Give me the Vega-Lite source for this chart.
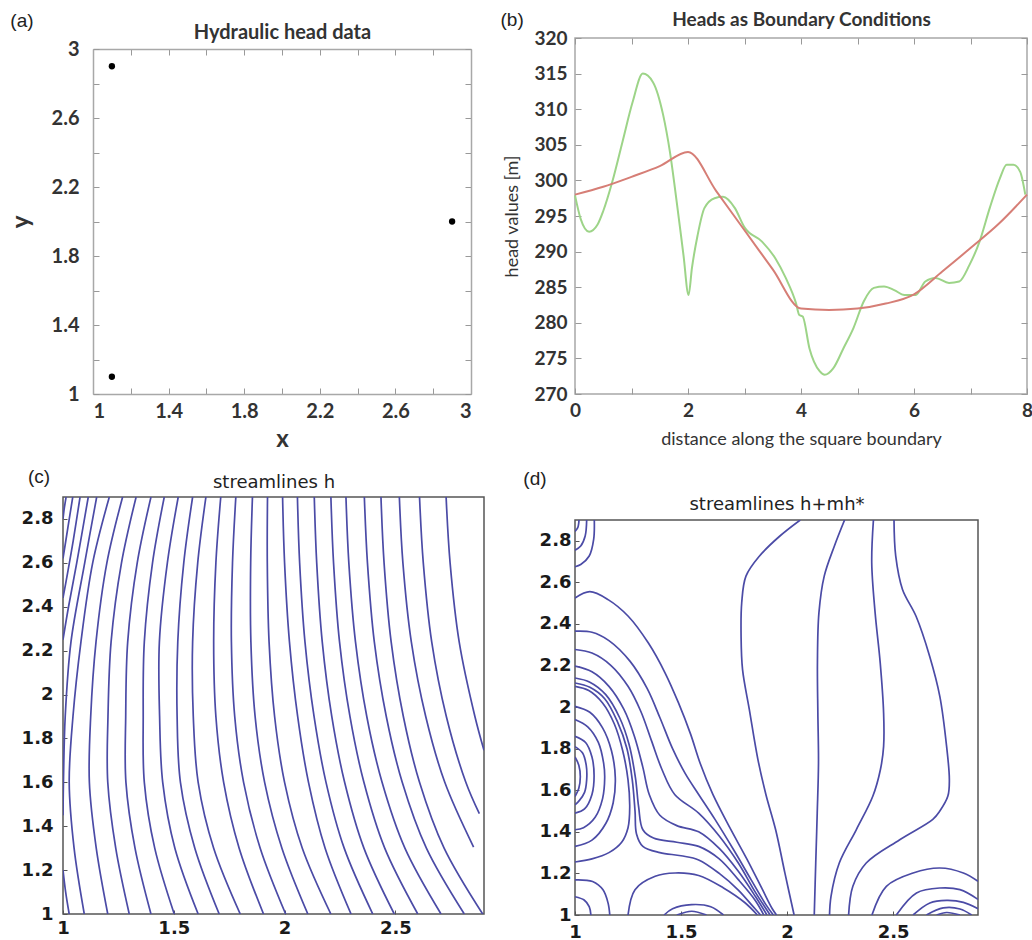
{
  "$schema": "https://vega.github.io/schema/vega-lite/v6.json",
  "background": "white",
  "padding": {"left": 9, "top": 9, "right": 0, "bottom": 0},
  "columns": 2,
  "align": "none",
  "bounds": "full",
  "spacing": 14,
  "config": {"axis": {"grid": false}},
  "datasets": {
    "pts": [
      {"x": 1.1, "y": 2.9},
      {"x": 2.9, "y": 2.0},
      {"x": 1.1, "y": 1.1}
    ],
    "heads": [
      {"s": "h+mh*", "d": 0, "h": 297.9}, {"s": "h+mh*", "d": 0.1, "h": 294.6}, {"s": "h+mh*", "d": 0.25, "h": 292.8}, {"s": "h+mh*", "d": 0.4, "h": 293.8},
      {"s": "h+mh*", "d": 0.5, "h": 295.7}, {"s": "h+mh*", "d": 0.66, "h": 299.8}, {"s": "h+mh*", "d": 0.84, "h": 305.4}, {"s": "h+mh*", "d": 1.02, "h": 311.0},
      {"s": "h+mh*", "d": 1.2, "h": 315.0}, {"s": "h+mh*", "d": 1.38, "h": 313.8}, {"s": "h+mh*", "d": 1.56, "h": 309.2}, {"s": "h+mh*", "d": 1.68, "h": 304.0},
      {"s": "h+mh*", "d": 1.8, "h": 297.0}, {"s": "h+mh*", "d": 1.92, "h": 289.5}, {"s": "h+mh*", "d": 2.01, "h": 283.9}, {"s": "h+mh*", "d": 2.07, "h": 287.7},
      {"s": "h+mh*", "d": 2.17, "h": 292.3}, {"s": "h+mh*", "d": 2.29, "h": 296.1}, {"s": "h+mh*", "d": 2.47, "h": 297.5}, {"s": "h+mh*", "d": 2.62, "h": 297.7},
      {"s": "h+mh*", "d": 2.83, "h": 296.1}, {"s": "h+mh*", "d": 3.0, "h": 293.4}, {"s": "h+mh*", "d": 3.31, "h": 291.4}, {"s": "h+mh*", "d": 3.55, "h": 289.0},
      {"s": "h+mh*", "d": 3.73, "h": 286.3}, {"s": "h+mh*", "d": 3.91, "h": 282.8}, {"s": "h+mh*", "d": 3.97, "h": 281.1}, {"s": "h+mh*", "d": 4.03, "h": 280.9},
      {"s": "h+mh*", "d": 4.15, "h": 276.4}, {"s": "h+mh*", "d": 4.33, "h": 273.2}, {"s": "h+mh*", "d": 4.42, "h": 272.7}, {"s": "h+mh*", "d": 4.57, "h": 273.6},
      {"s": "h+mh*", "d": 4.75, "h": 276.4}, {"s": "h+mh*", "d": 4.93, "h": 279.3}, {"s": "h+mh*", "d": 5.11, "h": 283.0}, {"s": "h+mh*", "d": 5.29, "h": 284.9},
      {"s": "h+mh*", "d": 5.47, "h": 285.1}, {"s": "h+mh*", "d": 5.65, "h": 284.6}, {"s": "h+mh*", "d": 5.83, "h": 283.9}, {"s": "h+mh*", "d": 6.03, "h": 283.9},
      {"s": "h+mh*", "d": 6.2, "h": 285.8}, {"s": "h+mh*", "d": 6.38, "h": 286.3}, {"s": "h+mh*", "d": 6.62, "h": 285.6}, {"s": "h+mh*", "d": 6.8, "h": 285.8},
      {"s": "h+mh*", "d": 6.98, "h": 288.1}, {"s": "h+mh*", "d": 7.16, "h": 291.4}, {"s": "h+mh*", "d": 7.34, "h": 296.1}, {"s": "h+mh*", "d": 7.52, "h": 300.3},
      {"s": "h+mh*", "d": 7.64, "h": 302.2}, {"s": "h+mh*", "d": 7.76, "h": 302.2}, {"s": "h+mh*", "d": 7.88, "h": 301.2}, {"s": "h+mh*", "d": 7.97, "h": 298.0},
      {"s": "h", "d": 0, "h": 298.0}, {"s": "h", "d": 0.5, "h": 299.1}, {"s": "h", "d": 1, "h": 300.5}, {"s": "h", "d": 1.5, "h": 302.0},
      {"s": "h", "d": 2, "h": 304.0}, {"s": "h", "d": 2.5, "h": 298.5}, {"s": "h", "d": 3, "h": 293.0}, {"s": "h", "d": 3.5, "h": 287.5},
      {"s": "h", "d": 4, "h": 282.0}, {"s": "h", "d": 4.5, "h": 281.8}, {"s": "h", "d": 5, "h": 282.0}, {"s": "h", "d": 5.5, "h": 282.7},
      {"s": "h", "d": 6, "h": 284.0}, {"s": "h", "d": 6.5, "h": 287.2}, {"s": "h", "d": 7, "h": 290.5}, {"s": "h", "d": 7.5, "h": 293.9},
      {"s": "h", "d": 8, "h": 298.0}
    ],
    "sc": [
      {"l": "L1", "o": 0, "x": 1.014, "y": 2.9}, {"l": "L1", "o": 1, "x": 1.006, "y": 2.85}, {"l": "L1", "o": 2, "x": 1.0, "y": 2.8},
      {"l": "L2", "o": 0, "x": 1.044, "y": 2.9}, {"l": "L2", "o": 1, "x": 1.022, "y": 2.76}, {"l": "L2", "o": 2, "x": 1.0, "y": 2.62},
      {"l": "L3", "o": 0, "x": 1.077, "y": 2.9}, {"l": "L3", "o": 1, "x": 1.046, "y": 2.7}, {"l": "L3", "o": 2, "x": 1.02, "y": 2.55}, {"l": "L3", "o": 3, "x": 1.0, "y": 2.44},
      {"l": "L4", "o": 0, "x": 1.114, "y": 2.9}, {"l": "L4", "o": 1, "x": 1.062, "y": 2.6}, {"l": "L4", "o": 2, "x": 1.025, "y": 2.4}, {"l": "L4", "o": 3, "x": 1.0, "y": 2.25},
      {"l": "L5", "o": 0, "x": 1.152, "y": 2.9}, {"l": "L5", "o": 1, "x": 1.098, "y": 2.6}, {"l": "L5", "o": 2, "x": 1.036, "y": 2.24}, {"l": "L5", "o": 3, "x": 1.01, "y": 1.9}, {"l": "L5", "o": 4, "x": 1.002, "y": 1.6}, {"l": "L5", "o": 5, "x": 1.0, "y": 1.45},
      {"l": "L5b", "o": 0, "x": 1.0, "y": 1.2}, {"l": "L5b", "o": 1, "x": 1.012, "y": 1.1}, {"l": "L5b", "o": 2, "x": 1.028, "y": 1.0},
      {"l": "L6", "o": 0, "x": 1.209, "y": 2.9}, {"l": "L6", "o": 1, "x": 1.134, "y": 2.6}, {"l": "L6", "o": 2, "x": 1.081, "y": 2.24}, {"l": "L6", "o": 3, "x": 1.045, "y": 1.9}, {"l": "L6", "o": 4, "x": 1.028, "y": 1.6}, {"l": "L6", "o": 5, "x": 1.05, "y": 1.3}, {"l": "L6", "o": 6, "x": 1.096, "y": 1.0},
      {"l": "L7", "o": 0, "x": 1.269, "y": 2.9}, {"l": "L7", "o": 1, "x": 1.198, "y": 2.6}, {"l": "L7", "o": 2, "x": 1.149, "y": 2.24}, {"l": "L7", "o": 3, "x": 1.125, "y": 1.9}, {"l": "L7", "o": 4, "x": 1.119, "y": 1.6}, {"l": "L7", "o": 5, "x": 1.15, "y": 1.3}, {"l": "L7", "o": 6, "x": 1.202, "y": 1.0},
      {"l": "L8", "o": 0, "x": 1.33, "y": 2.9}, {"l": "L8", "o": 1, "x": 1.264, "y": 2.6}, {"l": "L8", "o": 2, "x": 1.217, "y": 2.24}, {"l": "L8", "o": 3, "x": 1.203, "y": 1.9}, {"l": "L8", "o": 4, "x": 1.202, "y": 1.6}, {"l": "L8", "o": 5, "x": 1.238, "y": 1.3}, {"l": "L8", "o": 6, "x": 1.299, "y": 1.0},
      {"l": "L9", "o": 0, "x": 1.397, "y": 2.9}, {"l": "L9", "o": 1, "x": 1.335, "y": 2.6}, {"l": "L9", "o": 2, "x": 1.292, "y": 2.24}, {"l": "L9", "o": 3, "x": 1.283, "y": 1.9}, {"l": "L9", "o": 4, "x": 1.284, "y": 1.6}, {"l": "L9", "o": 5, "x": 1.325, "y": 1.3}, {"l": "L9", "o": 6, "x": 1.397, "y": 1.0},
      {"l": "L10", "o": 0, "x": 1.457, "y": 2.9}, {"l": "L10", "o": 1, "x": 1.404, "y": 2.6}, {"l": "L10", "o": 2, "x": 1.367, "y": 2.24}, {"l": "L10", "o": 3, "x": 1.362, "y": 1.9}, {"l": "L10", "o": 4, "x": 1.367, "y": 1.6}, {"l": "L10", "o": 5, "x": 1.414, "y": 1.3}, {"l": "L10", "o": 6, "x": 1.502, "y": 1.0},
      {"l": "L11", "o": 0, "x": 1.52, "y": 2.9}, {"l": "L11", "o": 1, "x": 1.471, "y": 2.6}, {"l": "L11", "o": 2, "x": 1.435, "y": 2.24}, {"l": "L11", "o": 3, "x": 1.436, "y": 1.9}, {"l": "L11", "o": 4, "x": 1.45, "y": 1.6}, {"l": "L11", "o": 5, "x": 1.505, "y": 1.3}, {"l": "L11", "o": 6, "x": 1.61, "y": 1.0},
      {"l": "L12", "o": 0, "x": 1.585, "y": 2.9}, {"l": "L12", "o": 1, "x": 1.545, "y": 2.6}, {"l": "L12", "o": 2, "x": 1.518, "y": 2.24}, {"l": "L12", "o": 3, "x": 1.515, "y": 1.9}, {"l": "L12", "o": 4, "x": 1.53, "y": 1.6}, {"l": "L12", "o": 5, "x": 1.595, "y": 1.3}, {"l": "L12", "o": 6, "x": 1.705, "y": 1.0},
      {"l": "L13", "o": 0, "x": 1.645, "y": 2.9}, {"l": "L13", "o": 1, "x": 1.608, "y": 2.6}, {"l": "L13", "o": 2, "x": 1.585, "y": 2.24}, {"l": "L13", "o": 3, "x": 1.588, "y": 1.9}, {"l": "L13", "o": 4, "x": 1.61, "y": 1.6}, {"l": "L13", "o": 5, "x": 1.68, "y": 1.3}, {"l": "L13", "o": 6, "x": 1.8, "y": 1.0},
      {"l": "L14", "o": 0, "x": 1.712, "y": 2.9}, {"l": "L14", "o": 1, "x": 1.69, "y": 2.6}, {"l": "L14", "o": 2, "x": 1.68, "y": 2.24}, {"l": "L14", "o": 3, "x": 1.69, "y": 1.9}, {"l": "L14", "o": 4, "x": 1.725, "y": 1.6}, {"l": "L14", "o": 5, "x": 1.795, "y": 1.3}, {"l": "L14", "o": 6, "x": 1.905, "y": 1.0},
      {"l": "L15", "o": 0, "x": 1.78, "y": 2.9}, {"l": "L15", "o": 1, "x": 1.765, "y": 2.6}, {"l": "L15", "o": 2, "x": 1.76, "y": 2.24}, {"l": "L15", "o": 3, "x": 1.775, "y": 1.9}, {"l": "L15", "o": 4, "x": 1.815, "y": 1.6}, {"l": "L15", "o": 5, "x": 1.89, "y": 1.3}, {"l": "L15", "o": 6, "x": 2.005, "y": 1.0},
      {"l": "L16", "o": 0, "x": 1.855, "y": 2.9}, {"l": "L16", "o": 1, "x": 1.847, "y": 2.6}, {"l": "L16", "o": 2, "x": 1.848, "y": 2.24}, {"l": "L16", "o": 3, "x": 1.867, "y": 1.9}, {"l": "L16", "o": 4, "x": 1.91, "y": 1.6}, {"l": "L16", "o": 5, "x": 1.988, "y": 1.3}, {"l": "L16", "o": 6, "x": 2.105, "y": 1.0},
      {"l": "L17", "o": 0, "x": 1.923, "y": 2.9}, {"l": "L17", "o": 1, "x": 1.922, "y": 2.6}, {"l": "L17", "o": 2, "x": 1.93, "y": 2.24}, {"l": "L17", "o": 3, "x": 1.955, "y": 1.9}, {"l": "L17", "o": 4, "x": 2.0, "y": 1.6}, {"l": "L17", "o": 5, "x": 2.08, "y": 1.3}, {"l": "L17", "o": 6, "x": 2.209, "y": 1.0},
      {"l": "L18", "o": 0, "x": 1.991, "y": 2.9}, {"l": "L18", "o": 1, "x": 2.0, "y": 2.6}, {"l": "L18", "o": 2, "x": 2.022, "y": 2.24}, {"l": "L18", "o": 3, "x": 2.059, "y": 1.9}, {"l": "L18", "o": 4, "x": 2.108, "y": 1.6}, {"l": "L18", "o": 5, "x": 2.183, "y": 1.3}, {"l": "L18", "o": 6, "x": 2.3, "y": 1.0},
      {"l": "L19", "o": 0, "x": 2.058, "y": 2.9}, {"l": "L19", "o": 1, "x": 2.068, "y": 2.6}, {"l": "L19", "o": 2, "x": 2.092, "y": 2.24}, {"l": "L19", "o": 3, "x": 2.133, "y": 1.9}, {"l": "L19", "o": 4, "x": 2.187, "y": 1.6}, {"l": "L19", "o": 5, "x": 2.269, "y": 1.3}, {"l": "L19", "o": 6, "x": 2.398, "y": 1.0},
      {"l": "L20", "o": 0, "x": 2.134, "y": 2.9}, {"l": "L20", "o": 1, "x": 2.145, "y": 2.6}, {"l": "L20", "o": 2, "x": 2.17, "y": 2.24}, {"l": "L20", "o": 3, "x": 2.213, "y": 1.9}, {"l": "L20", "o": 4, "x": 2.271, "y": 1.6}, {"l": "L20", "o": 5, "x": 2.358, "y": 1.3}, {"l": "L20", "o": 6, "x": 2.495, "y": 1.0},
      {"l": "L21", "o": 0, "x": 2.209, "y": 2.9}, {"l": "L21", "o": 1, "x": 2.221, "y": 2.6}, {"l": "L21", "o": 2, "x": 2.248, "y": 2.24}, {"l": "L21", "o": 3, "x": 2.295, "y": 1.9}, {"l": "L21", "o": 4, "x": 2.358, "y": 1.6}, {"l": "L21", "o": 5, "x": 2.452, "y": 1.3}, {"l": "L21", "o": 6, "x": 2.601, "y": 1.0},
      {"l": "L22", "o": 0, "x": 2.277, "y": 2.9}, {"l": "L22", "o": 1, "x": 2.29, "y": 2.6}, {"l": "L22", "o": 2, "x": 2.32, "y": 2.24}, {"l": "L22", "o": 3, "x": 2.371, "y": 1.9}, {"l": "L22", "o": 4, "x": 2.44, "y": 1.6}, {"l": "L22", "o": 5, "x": 2.543, "y": 1.3}, {"l": "L22", "o": 6, "x": 2.706, "y": 1.0},
      {"l": "L23", "o": 0, "x": 2.36, "y": 2.9}, {"l": "L23", "o": 1, "x": 2.374, "y": 2.6}, {"l": "L23", "o": 2, "x": 2.405, "y": 2.24}, {"l": "L23", "o": 3, "x": 2.459, "y": 1.9}, {"l": "L23", "o": 4, "x": 2.531, "y": 1.6}, {"l": "L23", "o": 5, "x": 2.64, "y": 1.3}, {"l": "L23", "o": 6, "x": 2.811, "y": 1.0},
      {"l": "L24", "o": 0, "x": 2.435, "y": 2.9}, {"l": "L24", "o": 1, "x": 2.449, "y": 2.6}, {"l": "L24", "o": 2, "x": 2.481, "y": 2.24}, {"l": "L24", "o": 3, "x": 2.536, "y": 1.9}, {"l": "L24", "o": 4, "x": 2.609, "y": 1.6}, {"l": "L24", "o": 5, "x": 2.72, "y": 1.3}, {"l": "L24", "o": 6, "x": 2.894, "y": 1.0},
      {"l": "L25", "o": 0, "x": 2.518, "y": 2.9}, {"l": "L25", "o": 1, "x": 2.534, "y": 2.6}, {"l": "L25", "o": 2, "x": 2.572, "y": 2.24}, {"l": "L25", "o": 3, "x": 2.637, "y": 1.9}, {"l": "L25", "o": 4, "x": 2.723, "y": 1.6}, {"l": "L25", "o": 5, "x": 2.853, "y": 1.305},
      {"l": "L26", "o": 0, "x": 2.609, "y": 2.9}, {"l": "L26", "o": 1, "x": 2.626, "y": 2.6}, {"l": "L26", "o": 2, "x": 2.664, "y": 2.24}, {"l": "L26", "o": 3, "x": 2.73, "y": 1.9}, {"l": "L26", "o": 4, "x": 2.818, "y": 1.6}, {"l": "L26", "o": 5, "x": 2.879, "y": 1.457},
      {"l": "L27", "o": 0, "x": 2.729, "y": 2.9}, {"l": "L27", "o": 1, "x": 2.747, "y": 2.6}, {"l": "L27", "o": 2, "x": 2.788, "y": 2.24}, {"l": "L27", "o": 3, "x": 2.859, "y": 1.9}, {"l": "L27", "o": 4, "x": 2.9, "y": 1.746}
    ],
    "sd": [
      {"l": "A1", "o": 0, "x": 1.091, "y": 2.9}, {"l": "A1", "o": 1, "x": 1.088, "y": 2.807}, {"l": "A1", "o": 2, "x": 1.067, "y": 2.727}, {"l": "A1", "o": 3, "x": 1.027, "y": 2.686}, {"l": "A1", "o": 4, "x": 1.0, "y": 2.675},
      {"l": "A2", "o": 0, "x": 1.055, "y": 2.9}, {"l": "A2", "o": 1, "x": 1.048, "y": 2.823}, {"l": "A2", "o": 2, "x": 1.027, "y": 2.775}, {"l": "A2", "o": 3, "x": 1.0, "y": 2.755},
      {"l": "A3", "o": 0, "x": 1.019, "y": 2.9}, {"l": "A3", "o": 1, "x": 1.013, "y": 2.863}, {"l": "A3", "o": 2, "x": 1.0, "y": 2.845},
      {"l": "F1", "o": 0, "x": 1.0, "y": 2.525}, {"l": "F1", "o": 1, "x": 1.07, "y": 2.555}, {"l": "F1", "o": 2, "x": 1.156, "y": 2.517}, {"l": "F1", "o": 3, "x": 1.251, "y": 2.437}, {"l": "F1", "o": 4, "x": 1.346, "y": 2.308}, {"l": "F1", "o": 5, "x": 1.425, "y": 2.164}, {"l": "F1", "o": 6, "x": 1.488, "y": 2.02}, {"l": "F1", "o": 7, "x": 1.545, "y": 1.87}, {"l": "F1", "o": 8, "x": 1.59, "y": 1.73}, {"l": "F1", "o": 9, "x": 1.65, "y": 1.58}, {"l": "F1", "o": 10, "x": 1.73, "y": 1.42}, {"l": "F1", "o": 11, "x": 1.81, "y": 1.27}, {"l": "F1", "o": 12, "x": 1.88, "y": 1.13}, {"l": "F1", "o": 13, "x": 1.93, "y": 1.03}, {"l": "F1", "o": 14, "x": 1.95, "y": 1.0},
      {"l": "F2", "o": 0, "x": 1.0, "y": 2.365}, {"l": "F2", "o": 1, "x": 1.08, "y": 2.36}, {"l": "F2", "o": 2, "x": 1.16, "y": 2.32}, {"l": "F2", "o": 3, "x": 1.26, "y": 2.22}, {"l": "F2", "o": 4, "x": 1.34, "y": 2.09}, {"l": "F2", "o": 5, "x": 1.4, "y": 1.95}, {"l": "F2", "o": 6, "x": 1.46, "y": 1.8}, {"l": "F2", "o": 7, "x": 1.52, "y": 1.68}, {"l": "F2", "o": 8, "x": 1.583, "y": 1.58}, {"l": "F2", "o": 9, "x": 1.66, "y": 1.46}, {"l": "F2", "o": 10, "x": 1.75, "y": 1.31}, {"l": "F2", "o": 11, "x": 1.83, "y": 1.17}, {"l": "F2", "o": 12, "x": 1.9, "y": 1.05}, {"l": "F2", "o": 13, "x": 1.935, "y": 1.0},
      {"l": "F3", "o": 0, "x": 1.0, "y": 2.277}, {"l": "F3", "o": 1, "x": 1.08, "y": 2.26}, {"l": "F3", "o": 2, "x": 1.17, "y": 2.2}, {"l": "F3", "o": 3, "x": 1.25, "y": 2.1}, {"l": "F3", "o": 4, "x": 1.31, "y": 1.98}, {"l": "F3", "o": 5, "x": 1.36, "y": 1.84}, {"l": "F3", "o": 6, "x": 1.41, "y": 1.7}, {"l": "F3", "o": 7, "x": 1.47, "y": 1.58}, {"l": "F3", "o": 8, "x": 1.583, "y": 1.49}, {"l": "F3", "o": 9, "x": 1.68, "y": 1.38}, {"l": "F3", "o": 10, "x": 1.77, "y": 1.25}, {"l": "F3", "o": 11, "x": 1.85, "y": 1.11}, {"l": "F3", "o": 12, "x": 1.92, "y": 1.0},
      {"l": "F4", "o": 0, "x": 1.0, "y": 2.197}, {"l": "F4", "o": 1, "x": 1.08, "y": 2.17}, {"l": "F4", "o": 2, "x": 1.16, "y": 2.1}, {"l": "F4", "o": 3, "x": 1.23, "y": 1.99}, {"l": "F4", "o": 4, "x": 1.28, "y": 1.86}, {"l": "F4", "o": 5, "x": 1.32, "y": 1.71}, {"l": "F4", "o": 6, "x": 1.35, "y": 1.58}, {"l": "F4", "o": 7, "x": 1.4, "y": 1.48}, {"l": "F4", "o": 8, "x": 1.48, "y": 1.43}, {"l": "F4", "o": 9, "x": 1.583, "y": 1.4}, {"l": "F4", "o": 10, "x": 1.68, "y": 1.32}, {"l": "F4", "o": 11, "x": 1.77, "y": 1.21}, {"l": "F4", "o": 12, "x": 1.85, "y": 1.09}, {"l": "F4", "o": 13, "x": 1.905, "y": 1.0},
      {"l": "F5", "o": 0, "x": 1.0, "y": 2.14}, {"l": "F5", "o": 1, "x": 1.07, "y": 2.12}, {"l": "F5", "o": 2, "x": 1.145, "y": 2.06}, {"l": "F5", "o": 3, "x": 1.21, "y": 1.95}, {"l": "F5", "o": 4, "x": 1.255, "y": 1.82}, {"l": "F5", "o": 5, "x": 1.285, "y": 1.66}, {"l": "F5", "o": 6, "x": 1.3, "y": 1.52}, {"l": "F5", "o": 7, "x": 1.32, "y": 1.41}, {"l": "F5", "o": 8, "x": 1.37, "y": 1.37}, {"l": "F5", "o": 9, "x": 1.48, "y": 1.35}, {"l": "F5", "o": 10, "x": 1.583, "y": 1.33}, {"l": "F5", "o": 11, "x": 1.68, "y": 1.27}, {"l": "F5", "o": 12, "x": 1.77, "y": 1.17}, {"l": "F5", "o": 13, "x": 1.85, "y": 1.07}, {"l": "F5", "o": 14, "x": 1.89, "y": 1.0},
      {"l": "F6", "o": 0, "x": 1.0, "y": 2.116}, {"l": "F6", "o": 1, "x": 1.07, "y": 2.095}, {"l": "F6", "o": 2, "x": 1.14, "y": 2.04}, {"l": "F6", "o": 3, "x": 1.2, "y": 1.93}, {"l": "F6", "o": 4, "x": 1.245, "y": 1.8}, {"l": "F6", "o": 5, "x": 1.27, "y": 1.65}, {"l": "F6", "o": 6, "x": 1.283, "y": 1.5}, {"l": "F6", "o": 7, "x": 1.29, "y": 1.39}, {"l": "F6", "o": 8, "x": 1.32, "y": 1.33}, {"l": "F6", "o": 9, "x": 1.4, "y": 1.3}, {"l": "F6", "o": 10, "x": 1.5, "y": 1.285}, {"l": "F6", "o": 11, "x": 1.583, "y": 1.265}, {"l": "F6", "o": 12, "x": 1.68, "y": 1.2}, {"l": "F6", "o": 13, "x": 1.77, "y": 1.12}, {"l": "F6", "o": 14, "x": 1.84, "y": 1.04}, {"l": "F6", "o": 15, "x": 1.875, "y": 1.0},
      {"l": "F7", "o": 0, "x": 1.0, "y": 2.1}, {"l": "F7", "o": 1, "x": 1.065, "y": 2.08}, {"l": "F7", "o": 2, "x": 1.13, "y": 2.02}, {"l": "F7", "o": 3, "x": 1.185, "y": 1.92}, {"l": "F7", "o": 4, "x": 1.225, "y": 1.79}, {"l": "F7", "o": 5, "x": 1.25, "y": 1.65}, {"l": "F7", "o": 6, "x": 1.258, "y": 1.52}, {"l": "F7", "o": 7, "x": 1.25, "y": 1.42}, {"l": "F7", "o": 8, "x": 1.22, "y": 1.35}, {"l": "F7", "o": 9, "x": 1.16, "y": 1.3}, {"l": "F7", "o": 10, "x": 1.08, "y": 1.27}, {"l": "F7", "o": 11, "x": 1.0, "y": 1.255},
      {"l": "G1", "o": 0, "x": 1.0, "y": 2.004}, {"l": "G1", "o": 1, "x": 1.07, "y": 1.975}, {"l": "G1", "o": 2, "x": 1.13, "y": 1.9}, {"l": "G1", "o": 3, "x": 1.172, "y": 1.79}, {"l": "G1", "o": 4, "x": 1.19, "y": 1.66}, {"l": "G1", "o": 5, "x": 1.18, "y": 1.54}, {"l": "G1", "o": 6, "x": 1.145, "y": 1.44}, {"l": "G1", "o": 7, "x": 1.08, "y": 1.36}, {"l": "G1", "o": 8, "x": 1.0, "y": 1.33},
      {"l": "G2", "o": 0, "x": 1.0, "y": 1.94}, {"l": "G2", "o": 1, "x": 1.06, "y": 1.905}, {"l": "G2", "o": 2, "x": 1.11, "y": 1.83}, {"l": "G2", "o": 3, "x": 1.135, "y": 1.73}, {"l": "G2", "o": 4, "x": 1.14, "y": 1.66}, {"l": "G2", "o": 5, "x": 1.13, "y": 1.56}, {"l": "G2", "o": 6, "x": 1.095, "y": 1.47}, {"l": "G2", "o": 7, "x": 1.04, "y": 1.42}, {"l": "G2", "o": 8, "x": 1.0, "y": 1.41},
      {"l": "G3", "o": 0, "x": 1.0, "y": 1.86}, {"l": "G3", "o": 1, "x": 1.05, "y": 1.83}, {"l": "G3", "o": 2, "x": 1.08, "y": 1.76}, {"l": "G3", "o": 3, "x": 1.09, "y": 1.67}, {"l": "G3", "o": 4, "x": 1.08, "y": 1.58}, {"l": "G3", "o": 5, "x": 1.045, "y": 1.51}, {"l": "G3", "o": 6, "x": 1.0, "y": 1.49},
      {"l": "G4", "o": 0, "x": 1.0, "y": 1.81}, {"l": "G4", "o": 1, "x": 1.035, "y": 1.78}, {"l": "G4", "o": 2, "x": 1.053, "y": 1.72}, {"l": "G4", "o": 3, "x": 1.055, "y": 1.65}, {"l": "G4", "o": 4, "x": 1.045, "y": 1.59}, {"l": "G4", "o": 5, "x": 1.02, "y": 1.55}, {"l": "G4", "o": 6, "x": 1.0, "y": 1.53},
      {"l": "G5", "o": 0, "x": 1.0, "y": 1.76}, {"l": "G5", "o": 1, "x": 1.018, "y": 1.72}, {"l": "G5", "o": 2, "x": 1.025, "y": 1.665}, {"l": "G5", "o": 3, "x": 1.018, "y": 1.61}, {"l": "G5", "o": 4, "x": 1.0, "y": 1.57},
      {"l": "H1", "o": 0, "x": 1.0, "y": 1.169}, {"l": "H1", "o": 1, "x": 1.083, "y": 1.161}, {"l": "H1", "o": 2, "x": 1.132, "y": 1.121}, {"l": "H1", "o": 3, "x": 1.156, "y": 1.057}, {"l": "H1", "o": 4, "x": 1.164, "y": 1.0},
      {"l": "H2", "o": 0, "x": 1.0, "y": 1.088}, {"l": "H2", "o": 1, "x": 1.043, "y": 1.072}, {"l": "H2", "o": 2, "x": 1.067, "y": 1.04}, {"l": "H2", "o": 3, "x": 1.075, "y": 1.0},
      {"l": "I1", "o": 0, "x": 1.25, "y": 1.0}, {"l": "I1", "o": 1, "x": 1.283, "y": 1.122}, {"l": "I1", "o": 2, "x": 1.378, "y": 1.186}, {"l": "I1", "o": 3, "x": 1.472, "y": 1.202}, {"l": "I1", "o": 4, "x": 1.583, "y": 1.19}, {"l": "I1", "o": 5, "x": 1.7, "y": 1.13}, {"l": "I1", "o": 6, "x": 1.8, "y": 1.06}, {"l": "I1", "o": 7, "x": 1.86, "y": 1.0},
      {"l": "J1", "o": 0, "x": 1.42, "y": 1.0}, {"l": "J1", "o": 1, "x": 1.46, "y": 1.03}, {"l": "J1", "o": 2, "x": 1.55, "y": 1.05}, {"l": "J1", "o": 3, "x": 1.64, "y": 1.04}, {"l": "J1", "o": 4, "x": 1.7, "y": 1.0},
      {"l": "J2", "o": 0, "x": 1.48, "y": 1.0}, {"l": "J2", "o": 1, "x": 1.55, "y": 1.018}, {"l": "J2", "o": 2, "x": 1.62, "y": 1.0},
      {"l": "M1", "o": 0, "x": 2.062, "y": 2.9}, {"l": "M1", "o": 1, "x": 1.966, "y": 2.823}, {"l": "M1", "o": 2, "x": 1.87, "y": 2.727}, {"l": "M1", "o": 3, "x": 1.806, "y": 2.63}, {"l": "M1", "o": 4, "x": 1.786, "y": 2.502}, {"l": "M1", "o": 5, "x": 1.783, "y": 2.341}, {"l": "M1", "o": 6, "x": 1.79, "y": 2.18}, {"l": "M1", "o": 7, "x": 1.822, "y": 1.988}, {"l": "M1", "o": 8, "x": 1.862, "y": 1.75}, {"l": "M1", "o": 9, "x": 1.9, "y": 1.58}, {"l": "M1", "o": 10, "x": 1.946, "y": 1.41}, {"l": "M1", "o": 11, "x": 1.99, "y": 1.2}, {"l": "M1", "o": 12, "x": 2.033, "y": 1.0},
      {"l": "M2", "o": 0, "x": 2.271, "y": 2.9}, {"l": "M2", "o": 1, "x": 2.223, "y": 2.775}, {"l": "M2", "o": 2, "x": 2.175, "y": 2.63}, {"l": "M2", "o": 3, "x": 2.15, "y": 2.453}, {"l": "M2", "o": 4, "x": 2.143, "y": 2.213}, {"l": "M2", "o": 5, "x": 2.145, "y": 1.972}, {"l": "M2", "o": 6, "x": 2.148, "y": 1.731}, {"l": "M2", "o": 7, "x": 2.142, "y": 1.49}, {"l": "M2", "o": 8, "x": 2.135, "y": 1.25}, {"l": "M2", "o": 9, "x": 2.128, "y": 1.0},
      {"l": "M3", "o": 0, "x": 2.407, "y": 2.9}, {"l": "M3", "o": 1, "x": 2.399, "y": 2.694}, {"l": "M3", "o": 2, "x": 2.415, "y": 2.453}, {"l": "M3", "o": 3, "x": 2.439, "y": 2.213}, {"l": "M3", "o": 4, "x": 2.455, "y": 1.972}, {"l": "M3", "o": 5, "x": 2.455, "y": 1.811}, {"l": "M3", "o": 6, "x": 2.44, "y": 1.7}, {"l": "M3", "o": 7, "x": 2.404, "y": 1.571}, {"l": "M3", "o": 8, "x": 2.326, "y": 1.41}, {"l": "M3", "o": 9, "x": 2.246, "y": 1.25}, {"l": "M3", "o": 10, "x": 2.207, "y": 1.09}, {"l": "M3", "o": 11, "x": 2.2, "y": 1.0},
      {"l": "M4", "o": 0, "x": 2.504, "y": 2.9}, {"l": "M4", "o": 1, "x": 2.512, "y": 2.727}, {"l": "M4", "o": 2, "x": 2.544, "y": 2.566}, {"l": "M4", "o": 3, "x": 2.608, "y": 2.437}, {"l": "M4", "o": 4, "x": 2.672, "y": 2.245}, {"l": "M4", "o": 5, "x": 2.72, "y": 2.052}, {"l": "M4", "o": 6, "x": 2.752, "y": 1.811}, {"l": "M4", "o": 7, "x": 2.765, "y": 1.65}, {"l": "M4", "o": 8, "x": 2.758, "y": 1.572}, {"l": "M4", "o": 9, "x": 2.72, "y": 1.5}, {"l": "M4", "o": 10, "x": 2.687, "y": 1.46}, {"l": "M4", "o": 11, "x": 2.531, "y": 1.362}, {"l": "M4", "o": 12, "x": 2.373, "y": 1.25}, {"l": "M4", "o": 13, "x": 2.31, "y": 1.138}, {"l": "M4", "o": 14, "x": 2.29, "y": 1.0},
      {"l": "K1", "o": 0, "x": 2.4, "y": 1.0}, {"l": "K1", "o": 1, "x": 2.468, "y": 1.138}, {"l": "K1", "o": 2, "x": 2.594, "y": 1.202}, {"l": "K1", "o": 3, "x": 2.72, "y": 1.226}, {"l": "K1", "o": 4, "x": 2.831, "y": 1.202}, {"l": "K1", "o": 5, "x": 2.9, "y": 1.162},
      {"l": "K2", "o": 0, "x": 2.515, "y": 1.0}, {"l": "K2", "o": 1, "x": 2.61, "y": 1.106}, {"l": "K2", "o": 2, "x": 2.72, "y": 1.13}, {"l": "K2", "o": 3, "x": 2.815, "y": 1.122}, {"l": "K2", "o": 4, "x": 2.9, "y": 1.075},
      {"l": "K3", "o": 0, "x": 2.594, "y": 1.0}, {"l": "K3", "o": 1, "x": 2.673, "y": 1.058}, {"l": "K3", "o": 2, "x": 2.752, "y": 1.07}, {"l": "K3", "o": 3, "x": 2.831, "y": 1.061}, {"l": "K3", "o": 4, "x": 2.9, "y": 1.03},
      {"l": "K4", "o": 0, "x": 2.657, "y": 1.0}, {"l": "K4", "o": 1, "x": 2.736, "y": 1.034}, {"l": "K4", "o": 2, "x": 2.815, "y": 1.029}, {"l": "K4", "o": 3, "x": 2.87, "y": 1.0},
      {"l": "K5", "o": 0, "x": 2.705, "y": 1.0}, {"l": "K5", "o": 1, "x": 2.752, "y": 1.012}, {"l": "K5", "o": 2, "x": 2.815, "y": 1.0}
    ]
  },
  "concat": [
    {
      "columns": 1,
      "align": "none",
      "bounds": "full",
      "spacing": 16,
      "concat": [
        {
          "width": 408,
          "height": 356,
          "view": {"stroke": null},
          "resolve": {"axis": {"x": "independent", "y": "independent"}},
          "layer": [
            {
              "data": {"name": "pts"},
              "mark": {"type": "point", "filled": true, "color": "#000000", "size": 40, "opacity": 1},
              "encoding": {
                "x": {"field": "x", "type": "quantitative", "scale": {"domain": [1, 3], "range": [30, 408], "nice": false, "zero": false},
                  "axis": {"values": [1, 1.2, 1.4, 1.6, 1.8, 2, 2.2, 2.4, 2.6, 2.8, 3], "format": "~g", "labelExpr": "indexof([1, 1.4, 1.8, 2.2, 2.6, 3], datum.value) >= 0 ? datum.label : ''", "labelOverlap": false, "labelFont": "Lato", "labelFontSize": 20, "labelFontWeight": "bold", "labelColor": "#333333", "labelPadding": 13, "tickSize": -6, "tickColor": "#999999", "domain": true, "domainColor": "#a8a8a8", "domainWidth": 1.5, "grid": false, "title": "x", "titleFont": "Lato", "titleFontSize": 24, "titleFontWeight": "bold", "titleColor": "#333333", "titlePadding": 6}},
                "y": {"field": "y", "type": "quantitative", "scale": {"domain": [1, 3], "range": [356, 11], "nice": false, "zero": false},
                  "axis": {"offset": -30, "values": [1, 1.2, 1.4, 1.6, 1.8, 2, 2.2, 2.4, 2.6, 2.8, 3], "format": "~g", "labelExpr": "indexof([1, 1.4, 1.8, 2.2, 2.6, 3], datum.value) >= 0 ? datum.label : ''", "labelOverlap": false, "labelFont": "Lato", "labelFontSize": 20, "labelFontWeight": "bold", "labelColor": "#333333", "labelPadding": 20, "tickSize": -6, "tickColor": "#999999", "domain": true, "domainColor": "#a8a8a8", "domainWidth": 1.5, "grid": false, "title": "y", "titleFont": "Lato", "titleFontSize": 24, "titleFontWeight": "bold", "titleColor": "#333333", "titlePadding": 18}}
              }
            },
            {
              "data": {"values": [{"t": "(a)"}]},
              "mark": {"type": "text", "font": "Liberation Sans", "fontSize": 19, "color": "#222222", "align": "center", "baseline": "middle"},
              "encoding": {
                "x": {"datum": 0.624, "type": "quantitative", "scale": {"domain": [1, 3], "range": [30, 408], "nice": false, "zero": false},
                  "axis": {"orient": "top", "offset": -11, "values": [1, 1.2, 1.4, 1.6, 1.8, 2, 2.2, 2.4, 2.6, 2.8, 3], "labels": false, "domain": true, "domainColor": "#a8a8a8", "domainWidth": 1.5, "grid": false, "tickSize": -6, "tickColor": "#999999", "title": "Hydraulic head data", "titleFont": "Lato", "titleFontSize": 20, "titleFontWeight": "bold", "titleColor": "#333333", "titleBaseline": "alphabetic", "titlePadding": 10}},
                "y": {"datum": 3.162, "type": "quantitative", "scale": {"domain": [1, 3], "range": [356, 11], "nice": false, "zero": false},
                  "axis": {"orient": "right", "values": [1, 1.2, 1.4, 1.6, 1.8, 2, 2.2, 2.4, 2.6, 2.8, 3], "labels": false, "domain": true, "domainColor": "#a8a8a8", "domainWidth": 1.5, "grid": false, "tickSize": -6, "tickColor": "#999999", "title": null}},
                "text": {"field": "t"}
              }
            }
          ]
        },
        {
          "width": 421,
          "height": 417,
          "view": {"stroke": "#555555", "strokeWidth": 1.5},
          "resolve": {"axis": {"x": "independent", "y": "independent"}},
          "layer": [
            {
              "data": {"name": "sc"},
              "mark": {"type": "line", "interpolate": "catmull-rom", "color": "#4b4ba6", "strokeWidth": 1.7, "clip": true},
              "encoding": {
                "x": {"field": "x", "type": "quantitative", "scale": {"domain": [1, 2.9], "nice": false, "zero": false},
                  "axis": {"values": [1, 1.5, 2, 2.5], "format": "~g", "labelOverlap": false, "labelFlush": false, "labelFont": "DejaVu Sans", "labelFontSize": 18, "labelFontWeight": "bold", "labelColor": "#1a1a1a", "labelPadding": 9, "tickSize": -4, "tickColor": "#555555", "domain": false, "grid": false, "title": null}},
                "y": {"field": "y", "type": "quantitative", "scale": {"domain": [1, 2.9], "nice": false, "zero": false},
                  "axis": {"values": [1, 1.2, 1.4, 1.6, 1.8, 2, 2.2, 2.4, 2.6, 2.8], "format": "~g", "labelOverlap": false, "labelFont": "DejaVu Sans", "labelFontSize": 18, "labelFontWeight": "bold", "labelColor": "#1a1a1a", "labelPadding": 14, "tickSize": -4, "tickColor": "#555555", "domain": false, "grid": false, "title": null}},
                "detail": {"field": "l", "type": "nominal"},
                "order": {"field": "o", "type": "quantitative"}
              }
            },
            {
              "data": {"values": [{"t": "(c)"}]},
              "mark": {"type": "text", "font": "Liberation Sans", "fontSize": 19, "color": "#222222", "align": "center", "baseline": "middle"},
              "encoding": {
                "x": {"datum": 0.892, "type": "quantitative", "scale": {"domain": [1, 2.9], "nice": false, "zero": false},
                  "axis": {"orient": "top", "ticks": false, "labels": false, "domain": false, "grid": false, "title": "streamlines h", "titleFont": "DejaVu Sans", "titleFontSize": 18, "titleFontWeight": "normal", "titleColor": "#222222", "titleBaseline": "alphabetic", "titlePadding": 10}},
                "y": {"datum": 2.991, "type": "quantitative", "scale": {"domain": [1, 2.9], "nice": false, "zero": false}, "axis": null},
                "text": {"field": "t"}
              }
            }
          ]
        }
      ]
    },
    {
      "columns": 1,
      "align": "none",
      "bounds": "full",
      "spacing": 20,
      "concat": [
        {
          "width": 452,
          "height": 356,
          "view": {"stroke": "#a8a8a8", "strokeWidth": 1.5},
          "resolve": {"axis": {"x": "independent", "y": "independent"}},
          "layer": [
            {
              "data": {"name": "heads"},
              "mark": {"type": "line", "interpolate": "monotone", "strokeWidth": 2},
              "encoding": {
                "x": {"field": "d", "type": "quantitative", "scale": {"domain": [0, 8], "nice": false, "zero": false},
                  "axis": {"values": [0, 1, 2, 3, 4, 5, 6, 7, 8], "labelExpr": "datum.value % 2 == 0 ? datum.label : ''", "labelOverlap": false, "labelFlush": false, "labelFont": "Lato", "labelFontSize": 19, "labelFontWeight": "bold", "labelColor": "#333333", "labelPadding": 13, "tickSize": -6, "tickColor": "#999999", "domain": false, "grid": false, "title": "distance along the square boundary", "titleFont": "Lato", "titleFontSize": 18, "titleFontWeight": "normal", "titleColor": "#333333", "titlePadding": 10}},
                "y": {"field": "h", "type": "quantitative", "scale": {"domain": [270, 320], "nice": false, "zero": false},
                  "axis": {"values": [270, 275, 280, 285, 290, 295, 300, 305, 310, 315, 320], "labelOverlap": false, "labelFont": "Lato", "labelFontSize": 19, "labelFontWeight": "bold", "labelColor": "#333333", "labelPadding": 14, "tickSize": -6, "tickColor": "#999999", "domain": false, "grid": false, "title": "head values [m]", "titleFont": "Lato", "titleFontSize": 18, "titleFontWeight": "normal", "titleColor": "#333333", "titlePadding": 12}},
                "color": {"field": "s", "type": "nominal", "scale": {"domain": ["h+mh*", "h"], "range": ["#9dd488", "#d67e76"]}, "legend": null}
              }
            },
            {
              "data": {"values": [{"t": "(b)"}]},
              "mark": {"type": "text", "font": "Liberation Sans", "fontSize": 19, "color": "#222222", "align": "center", "baseline": "middle"},
              "encoding": {
                "x": {"datum": -1.113, "type": "quantitative", "scale": {"domain": [0, 8], "nice": false, "zero": false},
                  "axis": {"orient": "top", "values": [0, 1, 2, 3, 4, 5, 6, 7, 8], "labels": false, "domain": false, "grid": false, "tickSize": -6, "tickColor": "#999999", "title": "Heads as Boundary Conditions", "titleFont": "Lato", "titleFontSize": 19, "titleFontWeight": "bold", "titleColor": "#333333", "titleBaseline": "alphabetic", "titlePadding": 12}},
                "y": {"datum": 322.53, "type": "quantitative", "scale": {"domain": [270, 320], "nice": false, "zero": false},
                  "axis": {"orient": "right", "values": [270, 275, 280, 285, 290, 295, 300, 305, 310, 315, 320], "labels": false, "domain": false, "grid": false, "tickSize": -6, "tickColor": "#999999", "title": null}},
                "text": {"field": "t"}
              }
            }
          ]
        },
        {
          "width": 403,
          "height": 395,
          "view": {"stroke": "#555555", "strokeWidth": 1.5},
          "resolve": {"axis": {"x": "independent", "y": "independent"}},
          "layer": [
            {
              "data": {"name": "sd"},
              "mark": {"type": "line", "interpolate": "catmull-rom", "color": "#4b4ba6", "strokeWidth": 1.7, "clip": true},
              "encoding": {
                "x": {"field": "x", "type": "quantitative", "scale": {"domain": [1, 2.9], "nice": false, "zero": false},
                  "axis": {"values": [1, 1.5, 2, 2.5], "format": "~g", "labelOverlap": false, "labelFlush": false, "labelFont": "DejaVu Sans", "labelFontSize": 18, "labelFontWeight": "bold", "labelColor": "#1a1a1a", "labelPadding": 12, "tickSize": -4, "tickColor": "#555555", "domain": false, "grid": false, "title": null}},
                "y": {"field": "y", "type": "quantitative", "scale": {"domain": [1, 2.9], "nice": false, "zero": false},
                  "axis": {"values": [1, 1.2, 1.4, 1.6, 1.8, 2, 2.2, 2.4, 2.6, 2.8], "format": "~g", "labelOverlap": false, "labelFont": "DejaVu Sans", "labelFontSize": 18, "labelFontWeight": "bold", "labelColor": "#1a1a1a", "labelPadding": 8, "tickSize": -4, "tickColor": "#555555", "domain": false, "grid": false, "title": null}},
                "detail": {"field": "l", "type": "nominal"},
                "order": {"field": "o", "type": "quantitative"}
              }
            },
            {
              "data": {"values": [{"t": "(d)"}]},
              "mark": {"type": "text", "font": "Liberation Sans", "fontSize": 19, "color": "#222222", "align": "center", "baseline": "middle"},
              "encoding": {
                "x": {"datum": 0.811, "type": "quantitative", "scale": {"domain": [1, 2.9], "nice": false, "zero": false},
                  "axis": {"orient": "top", "ticks": false, "labels": false, "domain": false, "grid": false, "title": "streamlines h+mh*", "titleFont": "DejaVu Sans", "titleFontSize": 18, "titleFontWeight": "normal", "titleColor": "#222222", "titleBaseline": "alphabetic", "titlePadding": 11}},
                "y": {"datum": 3.097, "type": "quantitative", "scale": {"domain": [1, 2.9], "nice": false, "zero": false}, "axis": null},
                "text": {"field": "t"}
              }
            }
          ]
        }
      ]
    }
  ]
}
